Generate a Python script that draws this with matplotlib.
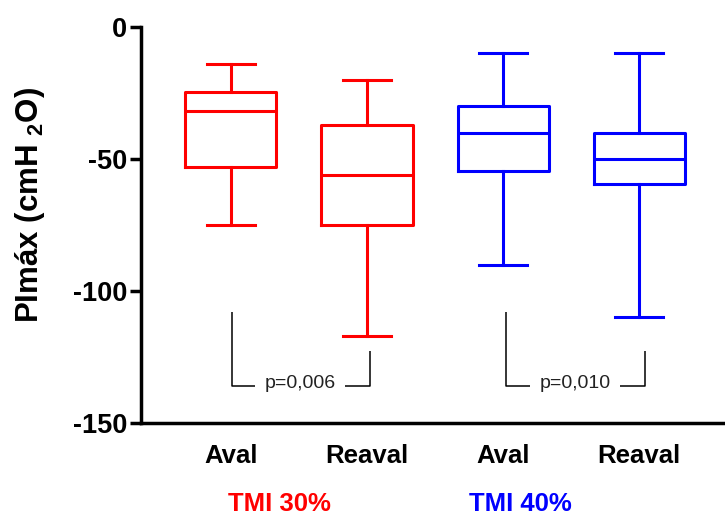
import matplotlib.pyplot as plt

plt.rcParams['font.family'] = ['Liberation Sans', 'DejaVu Sans']
plt.rcParams['mathtext.fontset'] = 'custom'
plt.rcParams['mathtext.bf'] = 'Liberation Sans:bold'
plt.rcParams['mathtext.rm'] = 'Liberation Sans:bold'
plt.rcParams['axes.unicode_minus'] = False

# box stats (min, q1, median, q3, max)
labels = ['Aval', 'Reaval', 'Aval', 'Reaval']
whislo = [-75, -117, -90, -110]
q1 = [-53, -75, -54.5, -59.5]
med = [-32, -56, -40, -50]
q3 = [-24.5, -37, -30, -40]
whishi = [-14, -20, -10, -10]
colors = ['#ff0000', '#ff0000', '#0000ff', '#0000ff']

groups = ['TMI 30%', 'TMI 40%']
group_x = [1.36, 3.13]
group_colors = ['#ff0000', '#0000ff']

pvals = ['p=0,006', 'p=0,010']
# bracket: left x, right x, left top, right top, bottom
brackets = [(1.005, 2.02, -108, -122.6, -136), (3.02, 4.04, -108, -122.7, -136)]

fig = plt.figure(figsize=(7.25, 5.18), dpi=100)
ax = fig.add_axes([0.1945, 0.1834, 0.8055, 0.7645])

pos = [1, 2, 3, 4]
for i in range(4):
    st = [dict(med=med[i], q1=q1[i], q3=q3[i], whislo=whislo[i], whishi=whishi[i], fliers=[])]
    c = colors[i]
    ax.bxp(st, positions=[pos[i]], widths=0.67, capwidths=0.35, showfliers=False,
           boxprops=dict(color=c, lw=2.2),
           medianprops=dict(color=c, lw=2.2),
           whiskerprops=dict(color=c, lw=2.2),
           capprops=dict(color=c, lw=2.2))

for (xl, xr, tl, tr, yb), p in zip(brackets, pvals):
    ax.plot([xl, xl, xl + 0.175], [tl, yb, yb], color='black', lw=1.1, solid_capstyle='butt')
    ax.plot([xr - 0.18, xr, xr], [yb, yb, tr], color='black', lw=1.1, solid_capstyle='butt')
    ax.text((xl + xr) / 2, yb + 0.8, p, ha='center', va='center', fontsize=14, color='#222222')

ax.set_xlim(0.34, 4.63)
ax.set_ylim(-150, 0)
ax.set_yticks([0, -50, -100, -150])
ax.set_xticks(pos)
ax.set_xticklabels(labels, fontsize=18.5, fontweight='bold')
for t in ax.get_yticklabels():
    t.set_fontsize(19.5)
    t.set_fontweight('bold')
ax.tick_params(axis='x', length=0, pad=15)
ax.tick_params(axis='y', length=8, width=2.5, pad=2)

ax.spines['top'].set_visible(False)
ax.spines['right'].set_visible(False)
ax.spines['left'].set_linewidth(2.5)
ax.spines['bottom'].set_linewidth(2.5)

for g, gx, gc in zip(groups, group_x, group_colors):
    ax.text(gx, -0.205, g, transform=ax.get_xaxis_transform(), ha='center', va='center',
            fontsize=18.5, fontweight='bold', color=gc)

fig.text(30 / 725, 1 - 205 / 518, 'PImáx (cmH $_\\mathbf{2}$O)', rotation=90,
         ha='center', va='center', fontsize=22.5, fontweight='bold')

fig.savefig('out.png', dpi=100)
